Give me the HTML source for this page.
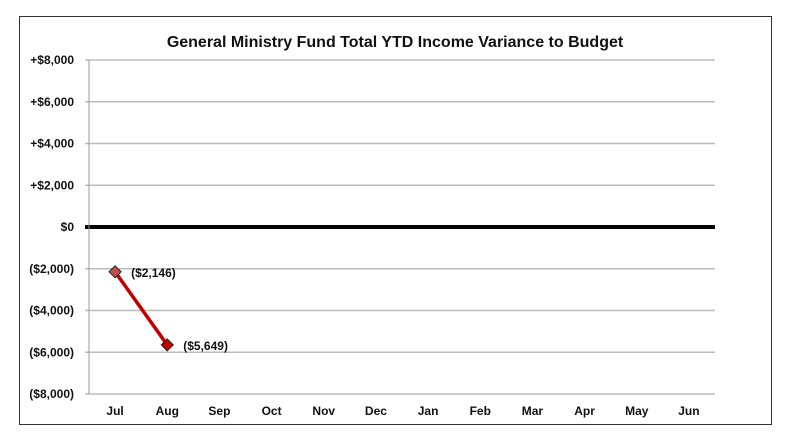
<!DOCTYPE html>
<html><head><meta charset="utf-8"><style>
body{margin:0;background:#fff;}
svg{display:block;font-family:"Liberation Sans",Arial,sans-serif;}
</style></head><body>
<svg width="800" height="439" viewBox="0 0 800 439">
<rect x="19.5" y="16.5" width="752" height="408" fill="#fff" stroke="#333" stroke-width="1"/>
<text x="395" y="47" text-anchor="middle" font-size="16" font-weight="bold" fill="#111">General Ministry Fund Total YTD Income Variance to Budget</text>
<g id="grid"></g><g id="yl"></g><g id="xl"></g><g id="series"></g>
</svg>
<script>
const categories=["Jul","Aug","Sep","Oct","Nov","Dec","Jan","Feb","Mar","Apr","May","Jun"];
const values=[-2146,-5649];
const valueLabels=["($2,146)","($5,649)"];
const ticks=[8000,6000,4000,2000,0,-2000,-4000,-6000,-8000];
const tickLabels=["+$8,000","+$6,000","+$4,000","+$2,000","$0","($2,000)","($4,000)","($6,000)","($8,000)"];
const NS="http://www.w3.org/2000/svg";
const x0=89,x1=715,yTop=60,yBot=394;
function y(v){return yTop+(8000-v)/16000*(yBot-yTop);}
function x(i){return x0+(i+0.5)*(x1-x0)/categories.length;}
function mk(t,a,p){const e=document.createElementNS(NS,t);for(const k in a)e.setAttribute(k,a[k]);p.appendChild(e);return e;}
const g=document.getElementById('grid'),yl=document.getElementById('yl'),xl=document.getElementById('xl'),s=document.getElementById('series');
ticks.forEach((t,i)=>{
 const ln=mk('line',{x1:85,x2:x1,y1:y(t),y2:y(t),stroke:t===0?'#000':'#bbb','stroke-width':t===0?4:1.5},g);
 
 
 const tx=mk('text',{x:74,y:y(t)+4,'text-anchor':'end','font-size':12,'font-weight':'bold',fill:'#111'},yl);
 tx.textContent=tickLabels[i];
 
 
});
const ax=mk('line',{x1:x0,x2:x0,y1:yTop,y2:yBot,stroke:'#999','stroke-width':1},g);


categories.forEach((c,i)=>{
 const tx=mk('text',{x:x(i),y:415,'text-anchor':'middle','font-size':12,'font-weight':'bold',fill:'#111'},xl);
 tx.textContent=c;
 
 
});
const pts=values.map((v,i)=>x(i)+','+y(v)).join(' ');
const pl=mk('polyline',{points:pts,fill:'none',stroke:'#c00000','stroke-width':3.5},s);


values.forEach((v,i)=>{
 const cx=x(i),cy=y(v),r=6;
 const m=mk('polygon',{points:`${cx},${cy-r} ${cx+r},${cy} ${cx},${cy+r} ${cx-r},${cy}`,fill:i===0?'#c0504d':'#c00000',stroke:'#222','stroke-width':1},s);
 
 
 const t=mk('text',{x:cx+16,y:cy+5,'font-size':12,'font-weight':'bold',fill:'#111'},s);
 t.textContent=valueLabels[i];
 
 
});
</script>
</body></html>
